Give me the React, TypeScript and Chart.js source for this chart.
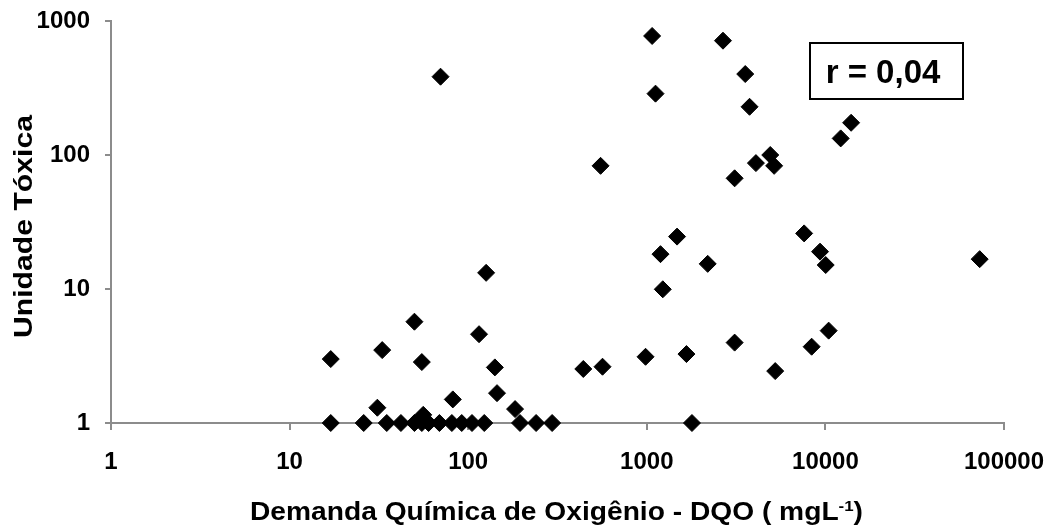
import React, { useEffect, useRef } from 'react';
import { Chart, registerables } from 'chart.js';

Chart.register(...registerables);

// Demanda Química de Oxigênio (mg/L) – x values
const dqoValues = [
  17, 26, 35, 42, 50, 55, 60, 69, 81, 92, 105, 123, 195, 240, 295, 1790,
  56, 17, 33, 31, 50, 55, 82, 115, 141, 145, 183, 126, 70,
  551, 1071, 1119, 2670, 3557, 3761, 3103, 4083, 4911, 5165, 12180, 13930,
  1477, 1193, 2193, 1229, 7603, 9332, 10040, 73100,
  441, 565, 984, 1667, 3103, 5236, 8376, 10430,
];
// Unidade Tóxica – y values
const utValues = [
  1, 1, 1, 1, 1, 1, 1, 1, 1, 1, 1, 1, 1, 1, 1, 1,
  1.15, 3.0, 3.5, 1.3, 5.7, 2.85, 1.5, 4.6, 2.6, 1.67, 1.27, 13.2, 384,
  83, 773, 287, 713, 402, 229, 67, 87, 100, 83, 133, 174,
  24.6, 18.2, 15.4, 9.95, 26, 19, 15.1, 16.7,
  2.53, 2.63, 3.12, 3.27, 3.98, 2.44, 3.71, 4.89,
];

const xTickValues = [1, 10, 100, 1000, 10000, 100000];
const xTickLabels = ['1', '10', '100', '1000', '10000', '100000'];
const yTickValues = [1, 10, 100, 1000];
const yTickLabels = ['1', '10', '100', '1000'];

const xAxisTitle = 'Demanda Química de Oxigênio - DQO ( mgL';
const xAxisTitleSup = '-1';
const xAxisTitleEnd = ')';
const yAxisTitle = 'Unidade Tóxica';
const correlationLabel = 'r = 0,04';

const FONT = '"Liberation Sans", Arial, Helvetica, sans-serif';
const AXIS_GRAY = '#8c8c8c';

const overlayPlugin = {
  id: 'overlay',
  afterDraw(chart: any) {
    const ctx = chart.ctx as CanvasRenderingContext2D;
    ctx.save();

    // correlation box
    ctx.fillStyle = '#ffffff';
    ctx.fillRect(809, 42, 155, 58);
    ctx.strokeStyle = '#000000';
    ctx.lineWidth = 2;
    ctx.strokeRect(810, 43, 153, 56);
    ctx.fillStyle = '#000000';
    ctx.font = `bold 33px ${FONT}`;
    ctx.textAlign = 'center';
    ctx.textBaseline = 'alphabetic';
    ctx.fillText(correlationLabel, 883, 83);

    // x axis title with superscript
    ctx.textAlign = 'left';
    ctx.font = `bold 25px ${FONT}`;
    const w1 = ctx.measureText(xAxisTitle).width;
    const w3 = ctx.measureText(xAxisTitleEnd).width;
    ctx.font = `bold 15px ${FONT}`;
    const w2 = ctx.measureText(xAxisTitleSup).width;
    const total = w1 + w2 + w3;
    const targetW = 613;
    const sx = targetW / total;
    ctx.save();
    ctx.translate(556.5 - targetW / 2, 520);
    ctx.scale(sx, 1);
    ctx.font = `bold 25px ${FONT}`;
    ctx.fillText(xAxisTitle, 0, 0);
    ctx.font = `bold 15px ${FONT}`;
    ctx.fillText(xAxisTitleSup, w1, -9);
    ctx.font = `bold 25px ${FONT}`;
    ctx.fillText(xAxisTitleEnd, w1 + w2, 0);
    ctx.restore();

    // y axis title
    ctx.save();
    ctx.font = `bold 25px ${FONT}`;
    const wy = ctx.measureText(yAxisTitle).width;
    const sy = 223 / wy;
    ctx.translate(32, 226.5);
    ctx.rotate(-Math.PI / 2);
    ctx.scale(sy, 1);
    ctx.textAlign = 'center';
    ctx.textBaseline = 'alphabetic';
    ctx.fillText(yAxisTitle, 0, 0);
    ctx.restore();

    ctx.restore();
  },
};

export default function App() {
  const canvasRef = useRef<HTMLCanvasElement | null>(null);

  useEffect(() => {
    if (!canvasRef.current) return;
    const points = dqoValues.map((x, i) => ({ x, y: utValues[i] }));
    const chart = new Chart(canvasRef.current, {
      type: 'scatter',
      data: {
        datasets: [
          {
            data: points,
            pointStyle: 'rectRot',
            pointRadius: 8.5,
            pointHoverRadius: 8.5,
            backgroundColor: '#000000',
            borderColor: '#000000',
            borderWidth: 1,
            showLine: false,
            clip: false,
          } as any,
        ],
      },
      options: {
        responsive: false,
        animation: false,
        devicePixelRatio: 1,
        events: [],
        layout: { padding: { top: 21, right: 48, left: 0, bottom: 0 } },
        plugins: {
          legend: { display: false },
          tooltip: { enabled: false },
          title: { display: false },
        },
        scales: {
          x: {
            type: 'logarithmic',
            position: 'bottom',
            min: 1,
            max: 100000,
            afterBuildTicks: (s: any) => {
              s.ticks = xTickValues.map((v) => ({ value: v }));
            },
            afterFit: (s: any) => {
              s.height = 106;
              s.paddingLeft = 0;
              s.paddingRight = 0;
              s.paddingTop = 0;
              s.paddingBottom = 0;
            },
            ticks: {
              autoSkip: false,
              maxRotation: 0,
              color: '#000000',
              padding: 18,
              font: { family: FONT, size: 24, weight: 'bold' },
              callback: (v: any) => {
                const i = xTickValues.indexOf(Number(v));
                return i >= 0 ? xTickLabels[i] : '';
              },
            },
            grid: {
              display: true,
              drawOnChartArea: false,
              drawTicks: true,
              tickLength: 7,
              color: AXIS_GRAY,
              lineWidth: 2,
            },
            border: { display: true, color: AXIS_GRAY, width: 2 },
          },
          y: {
            type: 'logarithmic',
            position: 'left',
            min: 1,
            max: 1000,
            afterBuildTicks: (s: any) => {
              s.ticks = yTickValues.map((v) => ({ value: v }));
            },
            afterFit: (s: any) => {
              s.width = 111;
              s.paddingLeft = 0;
              s.paddingRight = 0;
              s.paddingTop = 0;
              s.paddingBottom = 0;
            },
            ticks: {
              autoSkip: false,
              color: '#000000',
              padding: 15,
              font: { family: FONT, size: 24, weight: 'bold' },
              callback: (v: any) => {
                const i = yTickValues.indexOf(Number(v));
                return i >= 0 ? yTickLabels[i] : '';
              },
            },
            grid: {
              display: true,
              drawOnChartArea: false,
              drawTicks: true,
              tickLength: 6,
              color: AXIS_GRAY,
              lineWidth: 2,
            },
            border: { display: true, color: AXIS_GRAY, width: 2 },
          },
        },
      } as any,
      plugins: [overlayPlugin],
    });
    return () => chart.destroy();
  }, []);

  return (
    <div style={{ position: 'absolute', left: 0, top: 0, width: 1052, height: 529, background: '#ffffff' }}>
      <canvas ref={canvasRef} width={1052} height={529} style={{ display: 'block' }} />
    </div>
  );
}
